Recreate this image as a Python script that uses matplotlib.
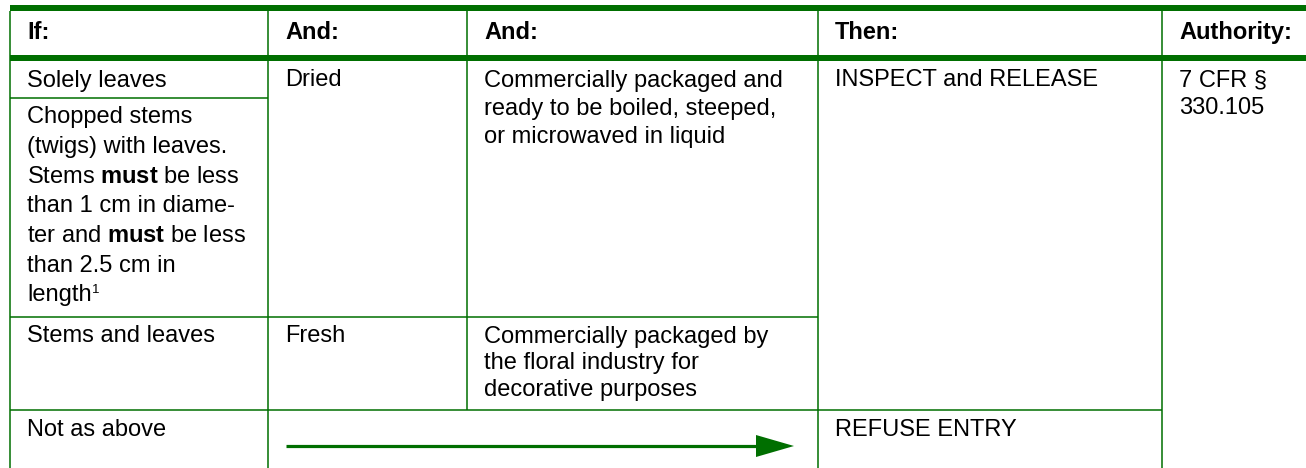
import matplotlib
matplotlib.use("Agg")
import matplotlib.pyplot as plt
from matplotlib.patches import Rectangle, Polygon

plt.rcParams['font.family'] = ['Liberation Sans', 'DejaVu Sans']
plt.rcParams['mathtext.fontset'] = 'custom'
plt.rcParams['mathtext.rm'] = 'Liberation Sans'
plt.rcParams['mathtext.it'] = 'Liberation Sans'
plt.rcParams['mathtext.bf'] = 'Liberation Sans:bold'

# table content
headers = ["If:", "And:", "And:", "Then:", "Authority:"]
if_cells = [
    ["Solely leaves"],
    ["Chopped stems", "(twigs) with leaves.", r"Stems $\mathbf{must}$ be less",
     "than 1 cm in diame-", r"ter and $\mathbf{must}$ be less", "than 2.5 cm in", "length"],
    ["Stems and leaves"],
    ["Not as above"],
]
footnote_mark = "1"
and1_cells = [["Dried"], ["Fresh"]]
and2_cells = [
    ["Commercially packaged and", "ready to be boiled, steeped,", "or microwaved in liquid"],
    ["Commercially packaged by", "the floral industry for", "decorative purposes"],
]
then_cells = [["INSPECT and RELEASE"], ["REFUSE ENTRY"]]
authority_cells = [["7 CFR §", "330.105"]]

# layout (pixels)
W, H = 1306, 468
cols = [10, 268, 467, 818, 1162, W]
rows = [61, 98, 317, 410]
green = "#006f00"
fs = 17
pad = 17
first = 25.5

fig = plt.figure(figsize=(W / 100, H / 100), dpi=100)
ax = fig.add_axes([0, 0, 1, 1])
ax.set_xlim(0, W)
ax.set_ylim(H, 0)
ax.axis("off")

# thick header bars
ax.add_patch(Rectangle((cols[0], 5), W - cols[0], 6, color=green, lw=0))
ax.add_patch(Rectangle((cols[0], 55), W - cols[0], 6, color=green, lw=0))

lw = 1.1
# vertical lines
ax.vlines(cols[0], 11, H, color=green, lw=lw)
ax.vlines(cols[1], 11, H, color=green, lw=lw)
ax.vlines(cols[2], 11, rows[3], color=green, lw=lw)
ax.vlines(cols[3], 11, H, color=green, lw=lw)
ax.vlines(cols[4], 11, H, color=green, lw=lw)
# horizontal lines
ax.hlines(rows[1], cols[0], cols[1], color=green, lw=lw)
ax.hlines(rows[2], cols[0], cols[3], color=green, lw=lw)
ax.hlines(rows[3], cols[0], cols[4], color=green, lw=lw)


def cell(x, top, lines, step=28.0, weight="normal"):
    out = []
    for i, s in enumerate(lines):
        out.append(ax.text(x + pad, top + first + i * step, s, fontsize=fs,
                           fontweight=weight, va="baseline", ha="left", color="black"))
    return out


for j, h in enumerate(headers):
    cell(cols[j], 11 + 2.5, [h], weight="bold")

cell(cols[0], rows[0], if_cells[0])
chop = cell(cols[0], rows[1], if_cells[1], step=29.6)
cell(cols[0], rows[2], if_cells[2])
cell(cols[0], rows[3], if_cells[3])

cell(cols[1], rows[0], and1_cells[0])
cell(cols[1], rows[2], and1_cells[1])
cell(cols[2], rows[0], and2_cells[0], step=28.5)
cell(cols[2], rows[2], and2_cells[1], step=26.8)
cell(cols[3], rows[0], then_cells[0])
cell(cols[3], rows[3], then_cells[1])
cell(cols[4], rows[0], authority_cells[0])

# superscript footnote after "length"
fig.canvas.draw()
last = chop[-1]
bb = last.get_window_extent(fig.canvas.get_renderer())
ax.text(bb.x1, rows[1] + first + 6 * 29.6 - 8, footnote_mark, fontsize=9.5,
        va="baseline", ha="left", color="black")

# arrow across the merged "And" cells
ay = 446
ax.plot([286, 760], [ay, ay], color=green, lw=2.3, solid_capstyle="butt")
ax.add_patch(Polygon([[756, ay - 11], [794, ay], [756, ay + 11]], closed=True,
                     color=green, lw=0))

fig.savefig("out.png", dpi=100)
